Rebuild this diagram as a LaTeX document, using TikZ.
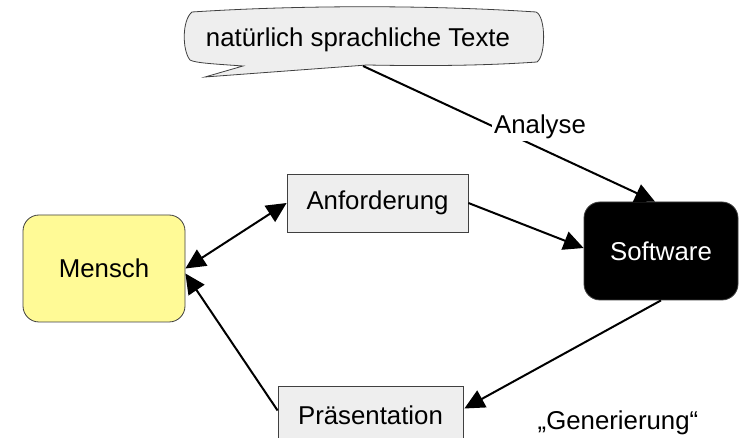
\documentclass[tikz,border=0pt]{standalone}
\usepackage{fontspec}
\setmainfont{Liberation Sans}
\usetikzlibrary{arrows.meta,calc}
\definecolor{boxgray}{HTML}{EEEEEE}
\definecolor{edgegray}{HTML}{404040}
\definecolor{menschyellow}{HTML}{FFFA96}
\begin{document}
\begin{tikzpicture}[x=1pt,y=-1pt,
  font=\fontsize{25.8}{30}\selectfont,
  plainbox/.style={draw=edgegray,line width=0.8pt,fill=boxgray,inner sep=0pt},
  roundbox/.style={draw=edgegray,line width=0.8pt,rounded corners=16pt,inner sep=0pt},
  conn/.style={line width=2pt,-{Triangle[length=20pt,width=19pt]}},
  lbl/.style={fill=white,inner sep=2pt}]
\clip (0,0) rectangle (740,438);
\fill[white] (0,0) rectangle (740,438);
% speech bubble
\draw[draw=edgegray,line width=0.8pt,fill=boxgray]
  (192,12) .. controls (300,5) and (430,5) .. (536,12)
  .. controls (546,16) and (546,56) .. (537,62)
  .. controls (480,66) and (420,66) .. (367,65)
  -- (205,77) -- (243,66)
  .. controls (215,64) and (195,63) .. (190,60)
  .. controls (182,50) and (182,20) .. (192,12) -- cycle;
\node (texte) at (358,40) {natürlich sprachliche Texte};
\coordinate (bub) at (363,66);
% nodes
\node[roundbox,fill=menschyellow,minimum width=162pt,minimum height=107pt] (mensch) at (104,268.5) {Mensch};
\node[plainbox,minimum width=181pt,minimum height=58pt] (anf) at (377.5,203) {Anforderung};
\node[roundbox,fill=black,text=white,minimum width=154pt,minimum height=98pt] (soft) at (661,251) {Software};
\node[plainbox,minimum width=185pt,minimum height=59pt] (praes) at (370.5,415.5) {Präsentation};
% connectors
\draw[line width=2pt,{Triangle[length=20pt,width=19pt]}-{Triangle[length=20pt,width=19pt]}] (mensch.east) -- (anf.west);
\draw[conn] ($(praes.west)+(0,-5)$) -- ($(mensch.east)+(0,5)$);
\draw[conn] (anf.east) -- ($(soft.west)+(0,-3)$);
\draw[conn] (bub) -- ($(soft.north)+(-6,0)$);
\draw[conn] (soft.south) -- ($(praes.east)+(1,-7)$);
% labels
\node[lbl] (analyse) at (540,127) {Analyse};
\node (gen) at (618,423) {„Generierung“};
\end{tikzpicture}
\end{document}
